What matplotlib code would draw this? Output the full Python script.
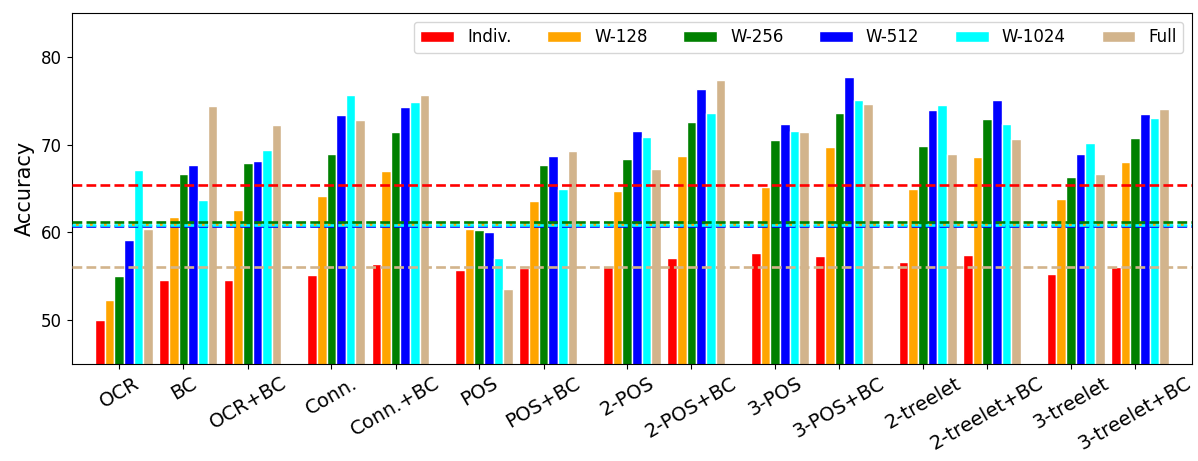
import matplotlib
matplotlib.use("Agg")
import matplotlib.pyplot as plt
import numpy as np

categories = ["OCR", "BC", "OCR+BC", "Conn.", "Conn.+BC", "POS", "POS+BC",
              "2-POS", "2-POS+BC", "3-POS", "3-POS+BC", "2-treelet",
              "2-treelet+BC", "3-treelet", "3-treelet+BC"]
group_sizes = [3, 2, 2, 2, 2, 2, 2]

series_names = ["Indiv.", "W-128", "W-256", "W-512", "W-1024", "Full"]
colors = ["red", "orange", "green", "blue", "cyan", "tan"]

indiv = [50.0, 54.6, 54.6, 55.1, 56.4, 55.7, 55.9, 56.2, 57.1, 57.6, 57.3, 56.6, 57.4, 55.2, 56.1]
w128 = [52.3, 61.8, 62.6, 64.2, 67.0, 60.4, 63.6, 64.7, 68.7, 65.2, 69.8, 64.9, 68.6, 63.8, 68.0]
w256 = [55.0, 66.7, 67.9, 68.9, 71.4, 60.3, 67.7, 68.4, 72.6, 70.5, 73.6, 69.9, 72.9, 66.3, 70.8]
w512 = [59.1, 67.7, 68.2, 73.4, 74.3, 60.0, 68.7, 71.6, 76.4, 72.4, 77.7, 74.0, 75.1, 68.9, 73.5]
w1024 = [67.1, 63.7, 69.4, 75.7, 74.9, 57.1, 65.0, 70.9, 73.6, 71.6, 75.1, 74.5, 72.4, 70.2, 73.0]
full = [60.4, 74.4, 72.3, 72.8, 75.7, 53.5, 69.3, 67.2, 77.4, 71.5, 74.7, 69.0, 70.7, 66.7, 74.1]
series = [indiv, w128, w256, w512, w1024, full]

# reference (average) lines: value per series
ref_values = {"red": 65.4, "green": 61.2, "blue": 60.7, "cyan": 60.85, "orange": 60.9, "tan": 56.0}

# positions
pos = []
x = 0.0
for gi, n in enumerate(group_sizes):
    for k in range(n):
        pos.append(x)
        x += 1.0
    x += 0.3
pos = np.array(pos)

fig = plt.figure(figsize=(11.98, 4.61), dpi=100)
ax = fig.add_axes([0.0597, 0.2108, 0.9351, 0.7603])

width = 0.15
for i, (name, vals, c) in enumerate(zip(series_names, series, colors)):
    ax.bar(pos + (i - 2) * width, vals, width, color=c, edgecolor="white",
           linewidth=1.0, label=name, zorder=2)

lw = 1.9
ax.axhline(ref_values["red"], color="red", ls="--", lw=lw, zorder=3)
ax.axhline(ref_values["tan"], color="tan", ls="--", lw=lw, zorder=3)
ax.axhline(ref_values["blue"], color="blue", ls="--", lw=lw, zorder=3)
ax.axhline(ref_values["cyan"], color="cyan", ls="--", lw=lw, zorder=3)
ax.axhline(ref_values["orange"], color="orange", ls=(3.95, (1.0, 4.3)), lw=lw, zorder=3)
ax.axhline(ref_values["green"], color="green", ls="--", lw=lw, zorder=3)

ax.set_ylim(45, 85)
ax.set_xlim(-0.74, 16.68)
ax.set_yticks([50, 60, 70, 80])
ax.tick_params(axis="y", labelsize=12)
ax.set_xticks(pos)
ax.set_xticklabels(categories, rotation=30, fontsize=14)
ax.set_ylabel("Accuracy", fontsize=15)

ax.legend(loc="upper right", ncol=6, fontsize=12, columnspacing=2.15)

fig.savefig("out.png", dpi=100)
